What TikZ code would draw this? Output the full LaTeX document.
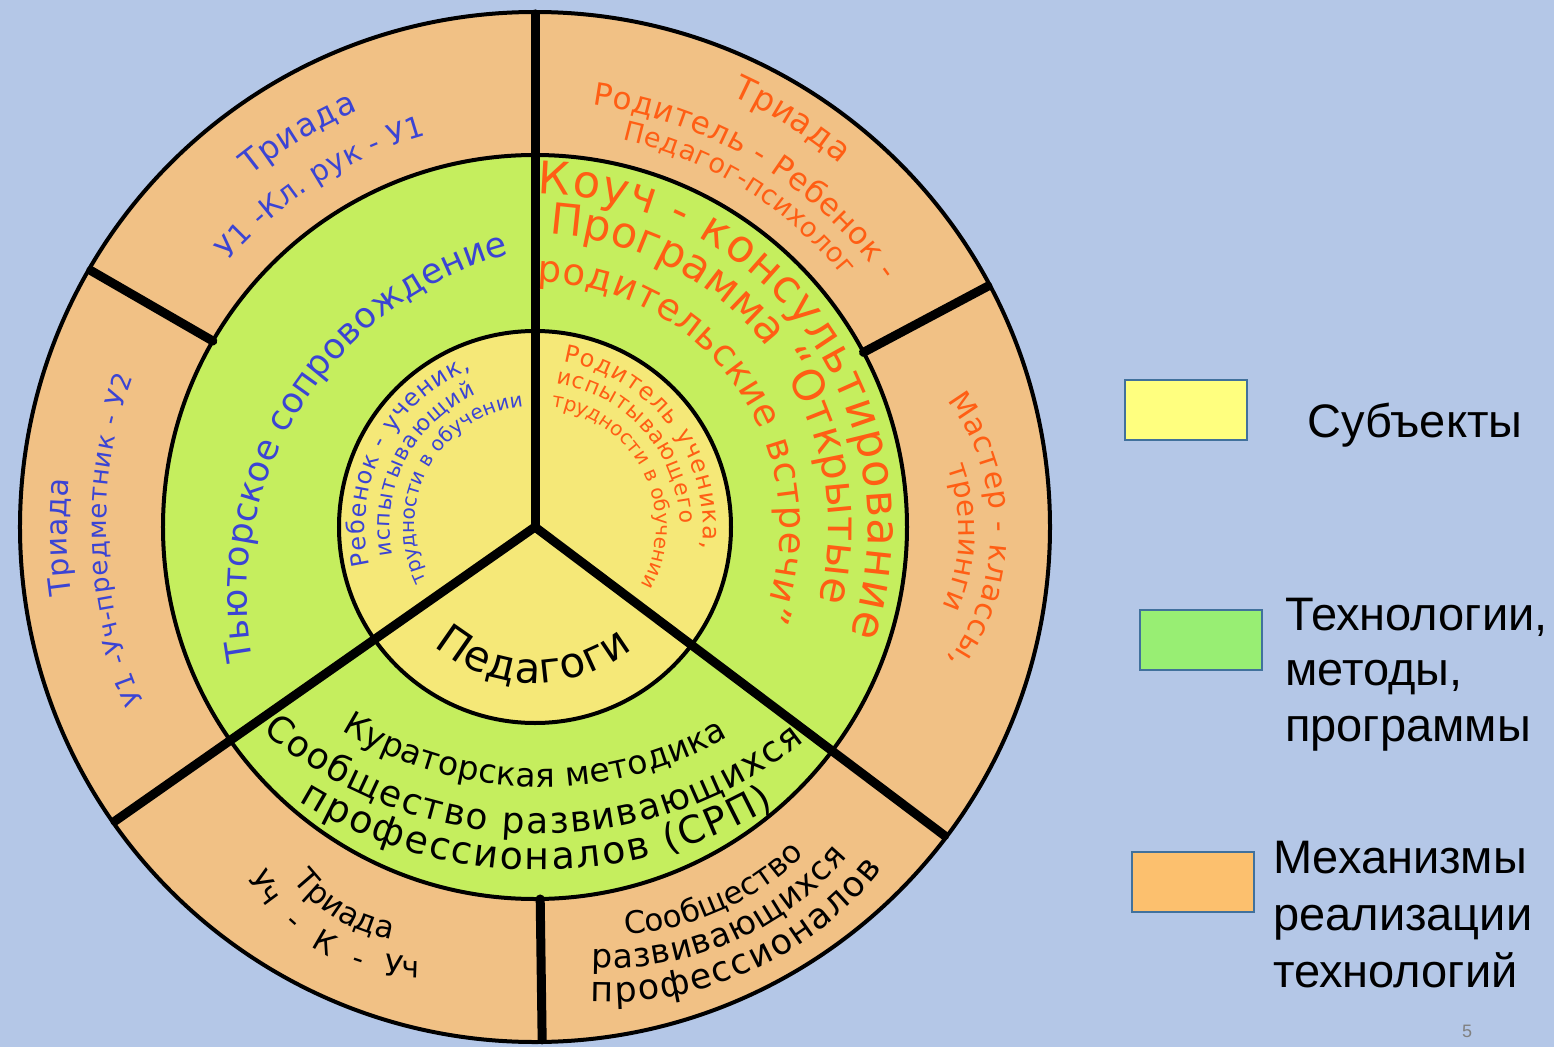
\documentclass[tikz,border=0pt]{standalone}
\usepackage{fontspec}
\setmainfont{DejaVu Sans}
\newfontfamily\legfont{Liberation Sans}
\usetikzlibrary{decorations.text}
\definecolor{bgblue}{HTML}{B4C7E7}
\definecolor{ringor}{HTML}{F1C185}
\definecolor{ringgr}{HTML}{C5EE5E}
\definecolor{ringye}{HTML}{F5E878}
\definecolor{legye}{HTML}{FFFF7F}
\definecolor{leggr}{HTML}{98EE73}
\definecolor{legor}{HTML}{FCC06E}
\definecolor{legline}{HTML}{41719C}
\definecolor{tblue}{HTML}{3B44D4}
\definecolor{tor}{HTML}{FF5E14}
\newcommand\fs[1]{\fontsize{#1}{#1}\selectfont}
\newcommand\arctext[7]{\path[shift={#1},decorate,decoration={text along path,text align=#6,text={|#5|#7}}] (#3:#2) arc[start angle=#3,end angle=#4,radius=#2];}
\newcommand\bl[1]{\fs{#1}\color{tblue}}
\newcommand\og[1]{\fs{#1}\color{tor}}
\newcommand\bk[1]{\fs{#1}\color{black}}
\begin{document}
\begin{tikzpicture}[x=1pt,y=1pt,
    rim/.style={draw=black,line width=4pt},
    bar/.style={line width=9pt,line cap=round},
    legbox/.style={draw=legline,line width=2pt,minimum width=122pt,minimum height=60pt,inner sep=0pt},
    legtxt/.style={font=\legfont\fs{47},anchor=base west,inner sep=0pt}]
  \useasboundingbox (-535,-520) rectangle (1019,527);
  \fill[bgblue] (-535,-520) rectangle (1019,527);
  \filldraw[rim,fill=ringor] (0,0) circle[radius=515];
  \filldraw[rim,fill=ringgr] (0,0) circle[radius=372];
  \filldraw[rim,fill=ringye] (0,0) circle[radius=196];
  \draw[bar] (0,0) -- (90:513);
  \draw[bar] (0,0) -- (215:513);
  \draw[bar] (0,0) -- (323:513);
  \draw[bar] (150:372) -- (150:513);
  \draw[bar] (28:372) -- (28:513);
  \draw[bar] (270.8:372) -- (270.8:513);
  \arctext{(0,0)}{452}{129}{113}{\bl{32}}{fit to path}{Триада}
  \arctext{(0,0)}{406}{139}{105.5}{\bl{29}}{fit to path}{У1 -Кл. рук - У1}
  \arctext{(0,0)}{468}{188.3}{174.1}{\bl{30}}{fit to path}{Триада}
  \arctext{(0,0)}{429}{204}{159.5}{\bl{26}}{fit to path}{У1 -Уч-предметник - У2}
  \arctext{(0,0)}{474}{65.5}{50}{\og{33}}{fit to path}{Триада}
  \arctext{(0,0)}{426}{82.3}{35.2}{\og{31}}{fit to path}{Родитель - Ребенок -}
  \arctext{(0,0)}{397}{77.3}{39}{\og{27}}{fit to path}{Педагог-психолог}
  \arctext{(240,-4)}{216}{37.1}{-36.9}{\og{30}}{fit to path}{Мастер - классы,}
  \arctext{(240,-4)}{184}{20.4}{-23.5}{\og{29}}{fit to path}{тренинги}
  \arctext{(66,-69)}{354}{190.5}{105}{\bl{35}}{fit to path}{Тьюторское сопровождение}
  \arctext{(0,0)}{333}{89.5}{-18.9}{\og{45}}{fit to path}{Коуч - консультирование}
  \arctext{(0,0)}{293}{87.2}{-14.6}{\og{43}}{fit to path}{Программа “Открытые}
  \arctext{(0,0)}{245}{89.4}{-22}{\og{37}}{fit to path}{родительские встречи”}
  \arctext{(0,0)}{170}{193}{112}{\bl{24}}{fit to path}{Ребенок - ученик,}
  \arctext{(0,0)}{145}{191.4}{114}{\bl{22}}{fit to path}{испытывающий}
  \arctext{(0,0)}{121}{206.8}{97.2}{\bl{20}}{fit to path}{трудности в обучении}
  \arctext{(0,0)}{168}{80.4}{-7.4}{\og{24}}{fit to path}{Родитель ученика,}
  \arctext{(0,0)}{145}{81.7}{1.3}{\og{22}}{fit to path}{испытывающего}
  \arctext{(0,0)}{121}{82.4}{-26.3}{\og{20}}{fit to path}{трудности в обучении}
  \arctext{(0,0)}{156}{229.4}{308.9}{\bk{42}}{fit to path}{Педагоги}
  \arctext{(5,117)}{377}{238.2}{299.9}{\bk{33}}{fit to path}{Кураторская методика}
  \arctext{(5,117)}{424}{229.2}{308.6}{\bk{36}}{fit to path}{Сообщество развивающихся}
  \arctext{(5,117)}{460}{238.4}{300.6}{\bk{38}}{fit to path}{профессионалов (СРП)}
  \arctext{(-119,-259)}{155}{217.3}{260.7}{\bk{31}}{fit to path}{Триада}
  \arctext{(-119,-259)}{192}{208.6}{270.9}{\bk{30}}{fit to path stretching spaces}{Уч - К - Уч}
  \arctext{(73,-127)}{281}{273.5}{314.4}{\bk{31}}{fit to path}{Сообщество}
  \arctext{(73,-127)}{314}{266.9}{319.8}{\bk{33}}{fit to path}{развивающихся}
  \arctext{(73,-127)}{348}{267.1}{322}{\bk{35}}{fit to path}{профессионалов}
  \node[legbox,fill=legye] (subj) at (651,117) {};
  \node[legbox,fill=leggr] (tech) at (666,-113) {};
  \node[legbox,fill=legor] (mech) at (657.5,-355) {};
  \node[legtxt] (subjtxt) at (772,90) {Субъекты};
  \node[legtxt] (tech1) at (750,-103) {Технологии,};
  \node[legtxt] (tech2) at (750,-158) {методы,};
  \node[legtxt] (tech3) at (750,-214) {программы};
  \node[legtxt] (mech1) at (738,-346) {Механизмы};
  \node[legtxt] (mech2) at (738,-403) {реализации};
  \node[legtxt] (mech3) at (738,-460) {технологий};
  \node[font=\legfont\fs{18},text=gray] (pagenum) at (932,-504) {5};
\end{tikzpicture}
\end{document}
